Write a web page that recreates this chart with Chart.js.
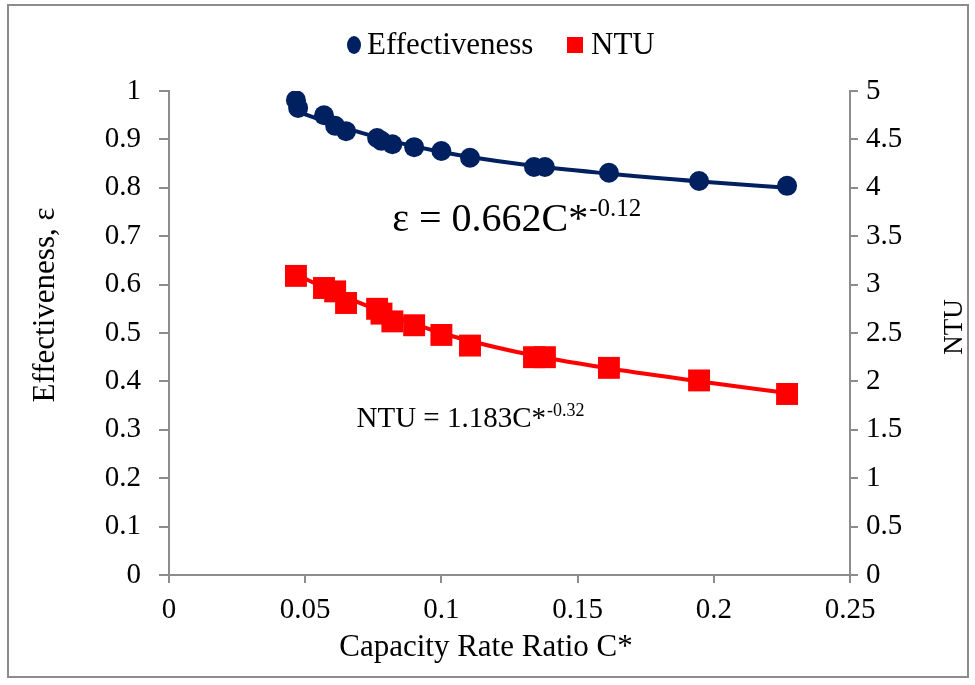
<!DOCTYPE html>
<html>
<head>
<meta charset="utf-8">
<script src="https://cdn.jsdelivr.net/npm/chart.js@4"></script>
<style>
  body { margin: 0; background: #fff; }
  #wrap { position: relative; width: 975px; height: 685px; }
  #frame { position: absolute; left: 7px; top: 4px; width: 962px; height: 674px; border: 2px solid #8c8c8c; box-sizing: border-box; pointer-events: none; }
</style>
</head>
<body>
<div id="wrap">
  <canvas id="chart" width="975" height="685"></canvas>
  <div id="frame"></div>
</div>
<script>
// measured points
const capRatio = [0.0466, 0.0474, 0.0569, 0.061, 0.065, 0.0764, 0.078, 0.082, 0.090, 0.100, 0.1105, 0.134, 0.138, 0.1615, 0.1946, 0.2269];
const effValues = [0.981, 0.965, 0.950, 0.928, 0.917, 0.903, 0.897, 0.890, 0.884, 0.876, 0.862, 0.843, 0.843, 0.831, 0.814, 0.804];
const ntuX = [0.0466, 0.0569, 0.061, 0.065, 0.0764, 0.078, 0.082, 0.090, 0.100, 0.1105, 0.134, 0.138, 0.1615, 0.1946, 0.2269];
const ntuValues = [3.09, 2.965, 2.93, 2.81, 2.75, 2.70, 2.62, 2.58, 2.48, 2.37, 2.25, 2.25, 2.14, 2.01, 1.87];

// trend curves
const trendX = [0.047, 0.06, 0.08, 0.1, 0.13, 0.16, 0.195, 0.227];
const effTrend = [0.958, 0.932, 0.899, 0.874, 0.848, 0.830, 0.813, 0.800];
const ntuTrend = [3.10, 2.93, 2.70, 2.50, 2.29, 2.14, 2.00, 1.88];

const xTicks = [0, 0.05, 0.1, 0.15, 0.2, 0.25];

const navy = "#002060";
const red = "#ff0000";
const axisGrey = "#8c8c8c";
const serif = "'Liberation Serif', 'Times New Roman', serif";

function pts(xs, ys) {
  return xs.map((x, i) => ({ x: x, y: ys[i] }));
}
function fmt(v) {
  return String(parseFloat(v.toFixed(2)));
}

// legend, equations and axis titles
const labelsPlugin = {
  id: "labels",
  afterDraw(chart) {
    const ctx = chart.ctx;
    const xs = chart.scales.x, yl = chart.scales.y;
    const area = chart.chartArea;
    const ds = chart.data.datasets;
    ctx.save();
    ctx.fillStyle = "#000";

    // legend: Excel style, marker then text
    ctx.font = "31px " + serif;
    ctx.textBaseline = "middle";
    ctx.textAlign = "left";
    ctx.fillStyle = ds[0].backgroundColor;
    ctx.beginPath();
    ctx.ellipse(354, 45, 7, 9, 0, 0, Math.PI * 2);
    ctx.fill();
    ctx.fillStyle = "#000";
    ctx.fillText(ds[0].label, 367, 46);
    ctx.fillStyle = ds[1].backgroundColor;
    ctx.fillRect(567, 37, 16, 16);
    ctx.fillStyle = "#000";
    ctx.fillText(ds[1].label, 591, 46);

    ctx.textBaseline = "alphabetic";
    function eq(main, sup, cx, cy, size) {
      ctx.textAlign = "left";
      ctx.font = size + "px " + serif;
      const w1 = ctx.measureText(main).width;
      ctx.font = Math.round(size * 0.62) + "px " + serif;
      const w2 = ctx.measureText(sup).width;
      let x = cx - (w1 + w2) / 2;
      ctx.font = size + "px " + serif;
      ctx.fillText(main, x, cy);
      ctx.font = Math.round(size * 0.62) + "px " + serif;
      ctx.fillText(sup, x + w1 + 1, cy - size * 0.38);
    }
    eq("\u03b5 = 0.662C*", "-0.12", xs.getPixelForValue(0.1275), yl.getPixelForValue(0.71), 40);
    eq("NTU = 1.183C*", "-0.32", xs.getPixelForValue(0.1105), yl.getPixelForValue(0.305), 29);

    ctx.textAlign = "center";
    ctx.textBaseline = "middle";
    ctx.font = "31px " + serif;
    // x axis title
    ctx.fillText("Capacity Rate Ratio C*", 486, 648);
    // left axis title
    ctx.save();
    ctx.translate(46, 305);
    ctx.rotate(-Math.PI / 2);
    ctx.fillText("Effectiveness, \u03b5", 0, 0);
    ctx.restore();
    // right axis title
    ctx.font = "27px " + serif;
    ctx.translate(955, (area.top + area.bottom) / 2 - 6);
    ctx.rotate(-Math.PI / 2);
    ctx.fillText("NTU", 0, 0);
    ctx.restore();
  }
};

new Chart(document.getElementById("chart"), {
  type: "scatter",
  data: {
    datasets: [
      {
        label: "Effectiveness",
        data: pts(capRatio, effValues),
        yAxisID: "y",
        pointStyle: "circle",
        pointRadius: 10,
        pointHoverRadius: 10,
        backgroundColor: navy,
        borderColor: navy,
        borderWidth: 0,
        order: 1,
      },
      {
        label: "NTU",
        data: pts(ntuX, ntuValues),
        yAxisID: "y2",
        pointStyle: "rect",
        pointRadius: 15.5,
        pointHoverRadius: 15.5,
        backgroundColor: red,
        borderColor: red,
        borderWidth: 0,
        order: 1,
      },
      {
        label: "effTrend",
        data: pts(trendX, effTrend),
        yAxisID: "y",
        showLine: true,
        pointRadius: 0,
        borderColor: navy,
        borderWidth: 4,
        cubicInterpolationMode: "monotone",
        order: 2,
      },
      {
        label: "ntuTrend",
        data: pts(trendX, ntuTrend),
        yAxisID: "y2",
        showLine: true,
        pointRadius: 0,
        borderColor: red,
        borderWidth: 4,
        cubicInterpolationMode: "monotone",
        order: 2,
      },
    ],
  },
  options: {
    responsive: false,
    animation: false,
    layout: { padding: { top: 91, bottom: 0, left: 0, right: 0 } },
    plugins: {
      tooltip: { enabled: false },
      legend: { display: false },
    },
    scales: {
      x: {
        type: "linear",
        min: 0,
        max: 0.25,
        afterBuildTicks: (scale) => { scale.ticks = xTicks.map(v => ({ value: v })); },
        afterFit: (scale) => { scale.height = 110; },
        border: { display: true, color: axisGrey, width: 2 },
        grid: { drawOnChartArea: false, drawTicks: true, tickLength: 8, color: axisGrey, lineWidth: 2 },
        ticks: { color: "#000", font: { family: serif, size: 29 }, padding: 10, callback: fmt, maxRotation: 0 },
      },
      y: {
        position: "left",
        min: 0,
        max: 1,
        ticks: { stepSize: 0.1, color: "#000", font: { family: serif, size: 29 }, padding: 18, callback: fmt },
        afterFit: (scale) => { scale.width = 169; },
        border: { display: true, color: axisGrey, width: 2 },
        grid: { drawOnChartArea: false, drawTicks: true, tickLength: 10, color: axisGrey, lineWidth: 2 },
      },
      y2: {
        position: "right",
        min: 0,
        max: 5,
        ticks: { stepSize: 0.5, color: "#000", font: { family: serif, size: 29 }, padding: 8, callback: fmt },
        afterFit: (scale) => { scale.width = 125; },
        border: { display: true, color: axisGrey, width: 2 },
        grid: { drawOnChartArea: false, drawTicks: true, tickLength: 8, color: axisGrey, lineWidth: 2 },
      },
    },
  },
  plugins: [labelsPlugin],
});
</script>
</body>
</html>
